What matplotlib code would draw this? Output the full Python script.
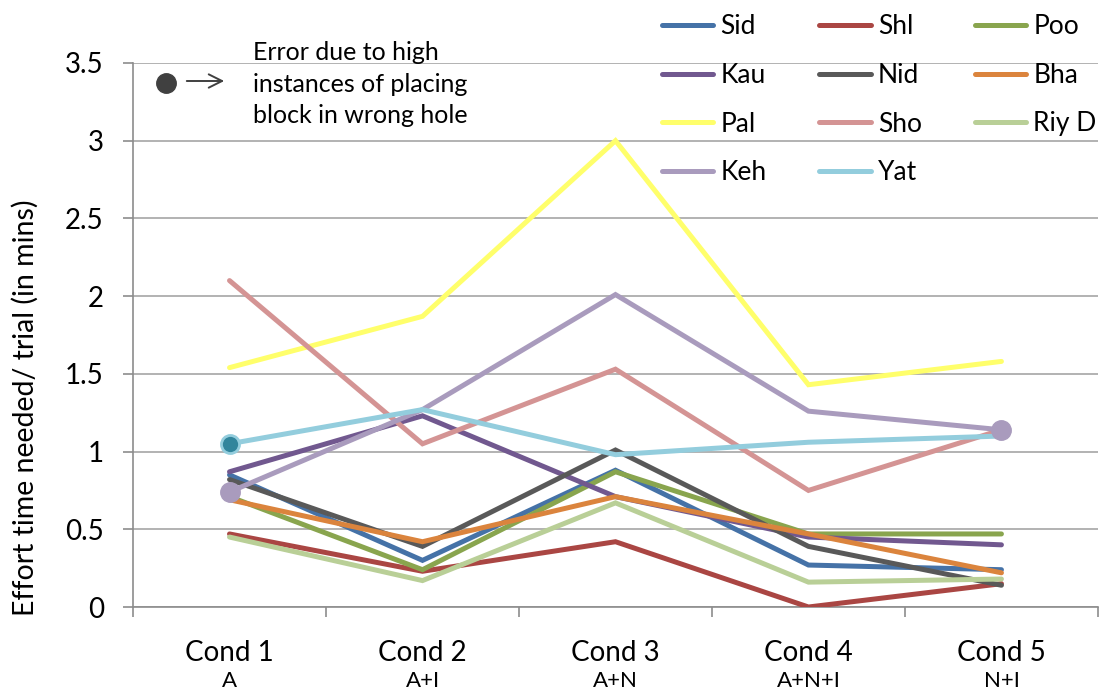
import matplotlib
matplotlib.use("Agg")
import matplotlib.pyplot as plt
from matplotlib.lines import Line2D
from matplotlib.transforms import blended_transform_factory

plt.rcParams["font.family"] = ["Lato", "DejaVu Sans"]

conditions = ["Cond 1", "Cond 2", "Cond 3", "Cond 4", "Cond 5"]
cond_sub = ["A", "A+I", "A+N", "A+N+I", "N+I"]

# effort time per trial (mins) for each participant
sid = [0.85, 0.30, 0.88, 0.27, 0.24]
shl = [0.47, 0.23, 0.42, 0.00, 0.15]
poo = [0.71, 0.24, 0.87, 0.47, 0.47]
kau = [0.87, 1.23, 0.71, 0.45, 0.40]
nid = [0.82, 0.39, 1.01, 0.39, 0.14]
bha = [0.69, 0.42, 0.71, 0.47, 0.22]
pal = [1.54, 1.87, 3.00, 1.43, 1.58]
sho = [2.10, 1.05, 1.53, 0.75, 1.14]
riy = [0.45, 0.17, 0.67, 0.16, 0.18]
keh = [0.74, 1.27, 2.01, 1.26, 1.14]
yat = [1.05, 1.27, 0.98, 1.06, 1.10]

series = [
    ("Sid", sid, "#4572A7"),
    ("Shl", shl, "#AA4643"),
    ("Poo", poo, "#89A54E"),
    ("Kau", kau, "#71588F"),
    ("Nid", nid, "#595959"),
    ("Bha", bha, "#DB843D"),
    ("Pal", pal, "#FFFF6B"),
    ("Sho", sho, "#D49494"),
    ("Riy D", riy, "#B9CF97"),
    ("Keh", keh, "#A99BBD"),
    ("Yat", yat, "#93CDDD"),
]

fig = plt.figure(figsize=(11.04, 6.89), dpi=100)
ax = fig.add_axes([0.1205, 0.119, 0.874, 0.7896])

x = list(range(len(conditions)))
handles = {}
for name, vals, col in series:
    ln, = ax.plot(x, vals, color=col, lw=3.6, solid_capstyle="round",
                  solid_joinstyle="miter", label=name, zorder=3)
    handles[name] = ln

# highlighted points (errors from wrong-hole placements)
ax.plot([0], [yat[0]], "o", ms=13, mfc="#31859C", mec="#93CDDD", mew=2, zorder=4)
ax.plot([0, 4], [keh[0], keh[4]], "o", ms=14, mfc="#A99BBD", mec="#A99BBD", zorder=4)

ax.set_xlim(-0.5, 4.5)
ax.set_ylim(0, 3.5)
ax.set_yticks([0, 0.5, 1, 1.5, 2, 2.5, 3, 3.5])
ax.set_yticklabels(["0", "0.5", "1", "1.5", "2", "2.5", "3", "3.5"], fontsize=20)
ax.yaxis.grid(True, color="#A6A6A6", lw=1.2, zorder=0)
ax.set_axisbelow(True)

ax.set_xticks([-0.5, 0.5, 1.5, 2.5, 3.5, 4.5])
ax.set_xticklabels([])
ax.tick_params(axis="x", length=7, color="#8C8C8C", width=1.2)
ax.tick_params(axis="y", length=7, color="#8C8C8C", width=1.2, pad=14)

lab_tr = blended_transform_factory(ax.transData, fig.transFigure)
for i, (c, s) in enumerate(zip(conditions, cond_sub)):
    ax.text(i, 1 - 661 / 689, c, ha="center", va="baseline", fontsize=20,
            transform=lab_tr, clip_on=False)
    ax.text(i, 1 - 687 / 689, s, ha="center", va="baseline", fontsize=16,
            transform=lab_tr, clip_on=False)

for side in ["top", "right"]:
    ax.spines[side].set_visible(False)
for side in ["left", "bottom"]:
    ax.spines[side].set_color("#8C8C8C")
    ax.spines[side].set_linewidth(1.2)

fig.text(25 / 1104, 1 - 408 / 689, "Effort time needed/ trial (in mins)",
         rotation=90, ha="center", va="center", fontsize=20.5)

order = ["Sid", "Kau", "Pal", "Keh", "Shl", "Nid", "Sho", "Yat", "Poo", "Bha", "Riy D"]
fig.legend([handles[n] for n in order], order, ncol=3, frameon=False,
           loc="upper left", bbox_to_anchor=(662 / 1104, 1 - 14 / 689),
           fontsize=19, handlelength=1.95, handletextpad=0.27,
           columnspacing=2.0, labelspacing=0.9, borderaxespad=0, borderpad=0)

# note for the highlighted markers
fig.add_artist(Line2D([166 / 1104], [1 - 83 / 689], marker="o", ms=14,
                      color="#404040", transform=fig.transFigure))
ax.annotate("", xy=(227 / 1104, 1 - 81 / 689), xytext=(184 / 1104, 1 - 81 / 689),
            xycoords="figure fraction", textcoords="figure fraction",
            arrowprops=dict(arrowstyle="->", color="#404040", lw=1.4,
                            mutation_scale=24))
fig.text(253 / 1104, 1 - 84 / 689,
         "Error due to high\ninstances of placing\nblock in wrong hole",
         ha="left", va="center", fontsize=18, linespacing=1.45)

fig.savefig("out.png", dpi=100)
